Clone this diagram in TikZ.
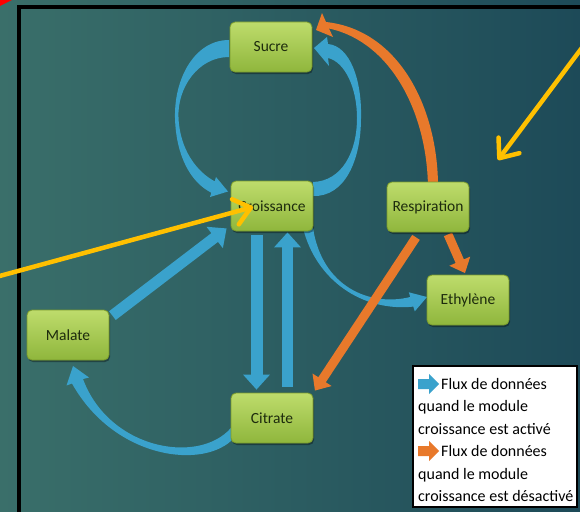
\documentclass[tikz,border=0pt]{standalone}
\usepackage{fontspec}
\setmainfont{Carlito}
\usetikzlibrary{arrows.meta,shadows,calc}
\definecolor{bgL}{HTML}{3A6F6A}
\definecolor{bgR}{HTML}{1D4A58}
\definecolor{boxT}{HTML}{BEDC6C}
\definecolor{boxB}{HTML}{8FB63C}
\definecolor{boxE}{HTML}{7A9A2C}
\definecolor{boxText}{HTML}{1D2B0D}
\definecolor{flowBlue}{HTML}{3AA2CC}
\definecolor{flowOrange}{HTML}{E8792B}
\definecolor{noteYellow}{HTML}{FFC000}
\pgfdeclarelayer{backdrop}
\pgfdeclarelayer{flows}
\pgfsetlayers{backdrop,flows,main}
\begin{document}
\begin{tikzpicture}[x=1pt,y=-1pt,
  box/.style={rounded corners=5pt,top color=boxT,bottom color=boxB,draw=boxE,line width=0.8pt,
    minimum width=82pt,minimum height=50pt,inner sep=0pt,text=boxText,
    font=\fontsize{15.5}{18}\selectfont,
    drop shadow={shadow xshift=1pt,shadow yshift=-2pt,opacity=0.35,fill=black}},
  bluearrow/.style={draw=flowBlue,line width=12pt,-{Triangle[width=26pt,length=15pt]}},
  orangearrow/.style={draw=flowOrange,line width=9pt,-{Triangle[width=22pt,length=13pt]}},
  note/.style={draw=noteYellow,line width=4.5pt,line cap=round,
    -{Straight Barb[length=16pt,width=26pt,line cap=round,line join=round]}},
  legendtext/.style={anchor=base west,inner sep=0pt,text=black,font=\fontsize{16}{19}\selectfont},
  legendicon/.pic={\fill (-10,-5) -- (1,-5) -- (1,-10) -- (11,0) -- (1,10) -- (1,5) -- (-10,5) -- cycle;}
]
\useasboundingbox (0,0) rectangle (580,511);
\clip (0,0) rectangle (580,511);

% slide backdrop and frame
\begin{pgfonlayer}{backdrop}
  \shade[left color=bgL,right color=bgR] (0,0) rectangle (580,511);
  \fill[red] (0,0) -- (12,0) -- (0,6) -- cycle;
  \draw[line width=4pt] (19,520) -- (19,7) -- (590,7);
\end{pgfonlayer}

% modules
\node[box] (sucre)       at (271,47)  {Sucre};
\node[box] (croissance)  at (272,206) {Croissance};
\node[box] (respiration) at (428,207) {Respiration};
\node[box] (ethylene)    at (468,300) {Ethylène};
\node[box] (malate)      at (68,335)  {Malate};
\node[box] (citrate)     at (272,418) {Citrate};

\begin{pgfonlayer}{flows}
  % Sucre -> Croissance (left loop)
  \fill[flowBlue] (229,40) .. controls (195,40) and (174,78) .. (175,118)
    .. controls (176,155) and (190,182) .. (211.3,192.7)
    -- (210,197) -- (228,191.5) -- (216,177) -- (214.7,181.3)
    .. controls (197,172) and (180,150) .. (178.5,118)
    .. controls (177,88) and (198,57) .. (229,57) -- cycle;
  % Croissance -> Sucre (right loop)
  \fill[flowBlue] (313,182) .. controls (342,181) and (357,152) .. (357,118)
    .. controls (357,88) and (345,62) .. (328,58)
    -- (329,66) -- (314,48) -- (327,37) -- (328,44)
    .. controls (350,46) and (362,80) .. (361,118)
    .. controls (361,160) and (345,197) .. (313,196) -- cycle;
  % Croissance -> Ethylene
  \fill[flowBlue] (303,228) .. controls (316,280) and (362,312) .. (413.3,306.6)
    -- (414.8,311.3) -- (427,297) -- (408.8,292.3) -- (410.3,297)
    .. controls (370,307) and (322,287) .. (313,228) -- cycle;
  % Citrate -> Malate
  \fill[flowBlue] (234,438) .. controls (205,470) and (115,460) .. (72,383.5)
    -- (66.5,385.5) -- (73,366) -- (89,377.5) -- (83,379)
    .. controls (110,452) and (205,466) .. (234,424) -- cycle;
  % straight flows
  \draw[bluearrow,line width=11pt] ([xshift=3pt,yshift=-6pt]malate.north east) -- ([xshift=-4pt,yshift=3pt]croissance.south west);
  \draw[bluearrow] ([xshift=-15.5pt,yshift=-4pt]croissance.south) -- ([xshift=-15.5pt,yshift=3pt]citrate.north);
  \draw[bluearrow,line width=11pt] ([xshift=15.5pt,yshift=6pt]citrate.north) -- ([xshift=15.5pt,yshift=-1pt]croissance.south);
  % Respiration -> Sucre
  \fill[flowOrange] (428,190) .. controls (428,115) and (392,42) .. (329,28.5)
    -- (333,37) -- (316,30) -- (322,13) -- (326,22)
    .. controls (400,30) and (439,110) .. (438,190) -- cycle;
  \draw[orangearrow] ([xshift=20pt,yshift=-2pt]respiration.south) -- ([xshift=-3pt,yshift=1.5pt]ethylene.north);
  \draw[orangearrow] ([xshift=-12pt,yshift=-5pt]respiration.south) -- ([xshift=1.5pt,yshift=2pt]citrate.north east);
\end{pgfonlayer}

% legend
\node[draw=black,line width=1.2pt,fill=white,minimum width=164pt,minimum height=141pt,inner sep=0pt] (legend) at (495,436.5) {};
\pic[fill=flowBlue]   at (428,384) {legendicon};
\pic[fill=flowOrange] at (428,451) {legendicon};
\node[legendtext] (lgA) at (441,389)   {Flux de données};
\node[legendtext] (lgB) at (418,411.5) {quand le module};
\node[legendtext] (lgC) at (418,434)   {croissance est activé};
\node[legendtext] (lgD) at (441,456.5) {Flux de données};
\node[legendtext] (lgE) at (418,479)   {quand le module};
\node[legendtext] (lgF) at (418,501.5) {croissance est désactivé};

% pointers
\coordinate (leftEnd) at (-4,277);
\coordinate (rightEnd) at (584,45);
\coordinate (rightTip) at (498,160);
\draw[note] (leftEnd) -- ([xshift=-19pt,yshift=-1pt]croissance.center);
\draw[note] (rightEnd) -- (rightTip);
\end{tikzpicture}
\end{document}
